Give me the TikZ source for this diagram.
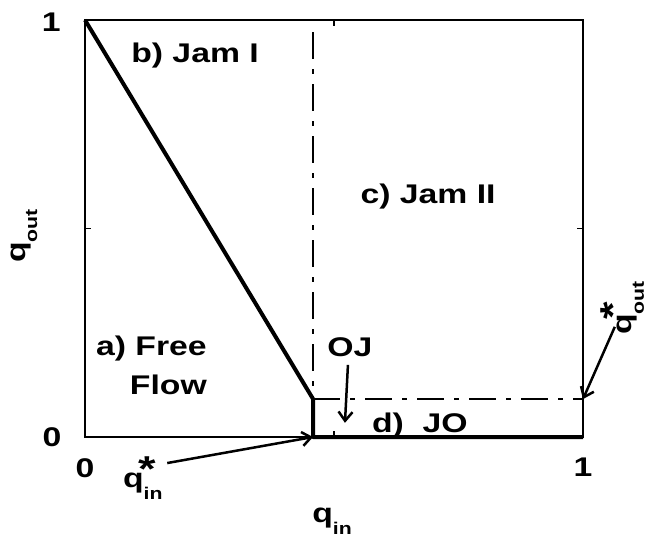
\documentclass[tikz,border=0pt]{standalone}
\usepackage{fontspec}
\setmainfont{Liberation Sans}[FakeStretch=1.25]
\usetikzlibrary{arrows.meta}

\newcommand{\qvar}[1]{q\raisebox{-12pt}{\fontsize{17}{17}\selectfont #1}}
\newcommand{\qstar}[1]{q\rlap{\kern-5pt\raisebox{6pt}{\fontsize{36}{36}\selectfont *}}\raisebox{-12pt}{\fontsize{17}{17}\selectfont #1}}

\begin{document}
\begin{tikzpicture}[
    x=498pt, y=417pt,
    font=\fontsize{27}{39}\selectfont\bfseries,
    lbl/.style={inner sep=0pt},
    frame/.style={draw=black, line width=1.5pt},
    tickmark/.style={draw=black, line width=1.5pt},
    boundary/.style={draw=black, line width=4pt, line join=round},
    split/.style={draw=black, line width=2.2pt, dash pattern=on 27pt off 10pt on 5pt off 10pt},
    ptr/.style={-{Straight Barb[length=9pt,width=14pt]}, draw=black, line width=2.5pt}
]
\useasboundingbox (-85pt,-102pt) rectangle (562pt,437pt);

\def\qinc{0.458}
\def\qoutc{0.091}

\coordinate (o) at (0,0);
\coordinate (top) at (0,1);
\coordinate (far) at (1,1);
\coordinate (right) at (1,0);
\coordinate (knee) at (\qinc,\qoutc);
\coordinate (foot) at (\qinc,0);
\coordinate (rim) at (1,\qoutc);
\coordinate (splittop) at (\qinc,0.971);
\coordinate (ojtip) at (0.522,0.034);

% frame and ticks
\draw[frame] (o) rectangle (far);
\draw[tickmark] (0.5,0) -- ++(0,6pt);
\draw[tickmark] (0.5,1) -- ++(0,-6pt);
\draw[tickmark] (0,0.5) -- ++(6pt,0);
\draw[tickmark] (1,0.5) -- ++(-6pt,0);

% phase boundaries
\draw[split] (splittop) -- (knee);
\draw[split] (knee) -- (rim);
\draw[boundary] (top) -- (knee) -- (foot) -- (right);

% axis numbers and titles
\node[lbl] (ytop) at (-0.068,0.995) {1};
\node[lbl] (ybot) at (-0.066,0) {0};
\node[lbl] (xleft) at (0,-0.074) {0};
\node[lbl] (xright) at (1,-0.072) {1};
\node[lbl, anchor=base west] (xtitle) at (0.456,-0.204) {\qvar{in}};
\node[lbl, anchor=base west, rotate=90] (ytitle) at (-0.120,0.417) {\qvar{out}};

% regions
\node[lbl, anchor=base] (jam1) at (0.221,0.899) {b) Jam I};
\node[lbl, anchor=base] (jam2) at (0.689,0.561) {c) Jam II};
\node[lbl, anchor=north east, align=right] (free) at (0.245,0.242) {a) Free\\Flow};
\node[lbl, anchor=base] (oj) at (0.532,0.192) {OJ};
\node[lbl, anchor=base west] (jo) at (0.576,0.012) {d)\ \ JO};

% critical values
\node[lbl, anchor=base west] (qinstar) at (0.076,-0.120) {\qstar{in}};
\node[lbl, anchor=base west, rotate=90] (qoutstar) at (1.098,0.245) {\qstar{out}};

\draw[ptr] ([shift={(4.5pt,24pt)}]qinstar.base east) -- (foot);
\draw[ptr] ([shift={(-17pt,8pt)}]qoutstar.base west) -- (rim);
\draw[ptr] ([shift={(-2pt,-8pt)}]oj.base) -- (ojtip);

\end{tikzpicture}
\end{document}
